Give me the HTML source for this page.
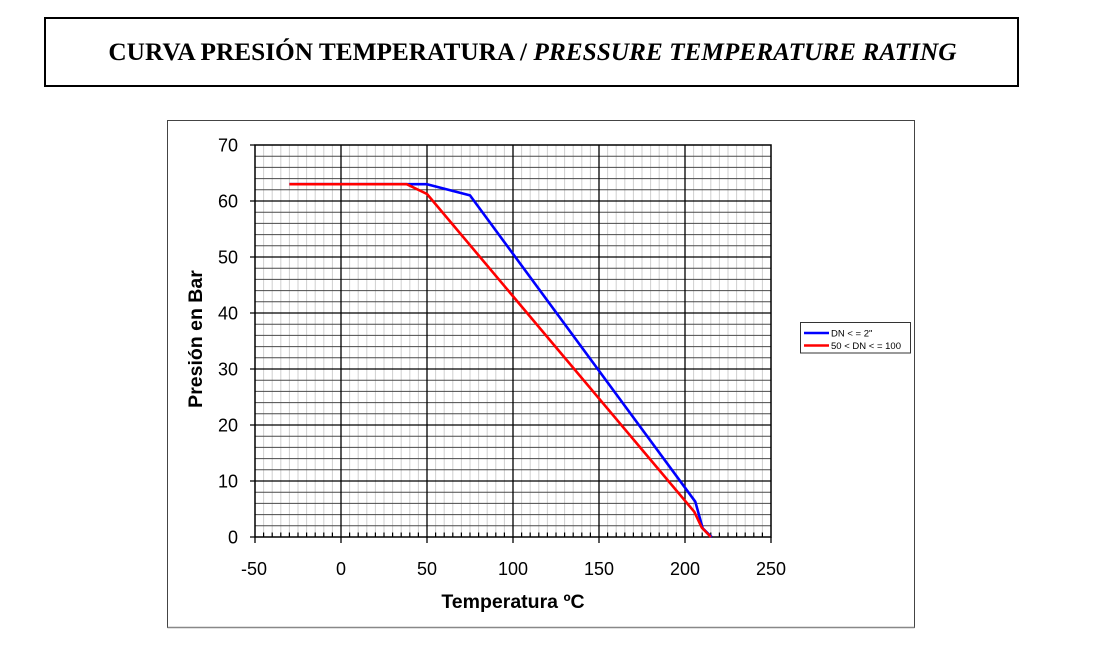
<!DOCTYPE html>
<html>
<head>
<meta charset="utf-8">
<style>
html,body{margin:0;padding:0;background:#fff;}
svg{display:block;}
</style>
</head>
<body>
<svg width="1101" height="652" viewBox="0 0 1101 652" xmlns="http://www.w3.org/2000/svg">
<rect x="0" y="0" width="1101" height="652" fill="#fff"/>
<!-- Title box -->
<rect x="45" y="18" width="973" height="68" fill="none" stroke="#000" stroke-width="2"/>
<text x="532.5" y="60" text-anchor="middle" font-family="'Liberation Serif', serif" font-weight="bold" font-size="25.3" fill="#000">CURVA PRESIÓN TEMPERATURA / <tspan font-style="italic">PRESSURE TEMPERATURE RATING</tspan></text>

<!-- Chart box -->
<rect x="167.5" y="120.5" width="747" height="507" fill="#fff" stroke="#444" stroke-width="1"/>
<line x1="167.5" y1="627.5" x2="914.5" y2="627.5" stroke="#888" stroke-width="1.5"/>

<!-- Vertical minor grid -->
<path fill="none" stroke="#cfcfcf" stroke-width="1" d="
M263.6 145V537 M272.2 145V537 M280.8 145V537 M289.4 145V537 M298 145V537 M306.6 145V537 M315.2 145V537 M323.8 145V537 M332.4 145V537
M349.6 145V537 M358.2 145V537 M366.8 145V537 M375.4 145V537 M384 145V537 M392.6 145V537 M401.2 145V537 M409.8 145V537 M418.4 145V537
M435.6 145V537 M444.2 145V537 M452.8 145V537 M461.4 145V537 M470 145V537 M478.6 145V537 M487.2 145V537 M495.8 145V537 M504.4 145V537
M521.6 145V537 M530.2 145V537 M538.8 145V537 M547.4 145V537 M556 145V537 M564.6 145V537 M573.2 145V537 M581.8 145V537 M590.4 145V537
M607.6 145V537 M616.2 145V537 M624.8 145V537 M633.4 145V537 M642 145V537 M650.6 145V537 M659.2 145V537 M667.8 145V537 M676.4 145V537
M693.6 145V537 M702.2 145V537 M710.8 145V537 M719.4 145V537 M728 145V537 M736.6 145V537 M745.2 145V537 M753.8 145V537 M762.4 145V537"/>

<!-- Horizontal minor grid -->
<path fill="none" stroke="#4a4a4a" stroke-width="1" d="
M255 525.8H771 M255 514.6H771 M255 503.4H771 M255 492.2H771
M255 469.8H771 M255 458.6H771 M255 447.4H771 M255 436.2H771
M255 413.8H771 M255 402.6H771 M255 391.4H771 M255 380.2H771
M255 357.8H771 M255 346.6H771 M255 335.4H771 M255 324.2H771
M255 301.8H771 M255 290.6H771 M255 279.4H771 M255 268.2H771
M255 245.8H771 M255 234.6H771 M255 223.4H771 M255 212.2H771
M255 189.8H771 M255 178.6H771 M255 167.4H771 M255 156.2H771"/>

<!-- Major grid -->
<path fill="none" stroke="#000" stroke-width="1.3" d="
M341 145V537 M427 145V537 M513 145V537 M599 145V537 M685 145V537
M255 481H771 M255 425H771 M255 369H771 M255 313H771 M255 257H771 M255 201H771"/>

<!-- Plot border -->
<rect x="255" y="145" width="516" height="392" fill="none" stroke="#000" stroke-width="1.5"/>

<!-- X minor ticks (inward) -->
<path fill="none" stroke="#000" stroke-width="1.2" d="
M263.6 537V532.5 M272.2 537V532.5 M280.8 537V532.5 M289.4 537V532.5 M298 537V532.5 M306.6 537V532.5 M315.2 537V532.5 M323.8 537V532.5 M332.4 537V532.5
M349.6 537V532.5 M358.2 537V532.5 M366.8 537V532.5 M375.4 537V532.5 M384 537V532.5 M392.6 537V532.5 M401.2 537V532.5 M409.8 537V532.5 M418.4 537V532.5
M435.6 537V532.5 M444.2 537V532.5 M452.8 537V532.5 M461.4 537V532.5 M470 537V532.5 M478.6 537V532.5 M487.2 537V532.5 M495.8 537V532.5 M504.4 537V532.5
M521.6 537V532.5 M530.2 537V532.5 M538.8 537V532.5 M547.4 537V532.5 M556 537V532.5 M564.6 537V532.5 M573.2 537V532.5 M581.8 537V532.5 M590.4 537V532.5
M607.6 537V532.5 M616.2 537V532.5 M624.8 537V532.5 M633.4 537V532.5 M642 537V532.5 M650.6 537V532.5 M659.2 537V532.5 M667.8 537V532.5 M676.4 537V532.5
M693.6 537V532.5 M702.2 537V532.5 M710.8 537V532.5 M719.4 537V532.5 M728 537V532.5 M736.6 537V532.5 M745.2 537V532.5 M753.8 537V532.5 M762.4 537V532.5"/>
<!-- X major ticks (outward) -->
<path fill="none" stroke="#000" stroke-width="1.3" d="
M255 537V543 M341 537V543 M427 537V543 M513 537V543 M599 537V543 M685 537V543 M771 537V543"/>
<!-- Y major ticks -->
<path fill="none" stroke="#000" stroke-width="1.3" d="
M250 537H255 M250 481H255 M250 425H255 M250 369H255 M250 313H255 M250 257H255 M250 201H255 M250 145H255"/>

<!-- Series -->
<polyline fill="none" stroke="#0000ff" stroke-width="2.6" stroke-linejoin="round"
  points="289.4,184.2 427,184.2 470,195.4 695.3,501.7 702.7,528.3 711.7,537"/>
<polyline fill="none" stroke="#ff0000" stroke-width="2.6" stroke-linejoin="round"
  points="289.4,184.2 406.7,184.2 427,194 694.3,511.8 701.7,527.5 710.8,537"/>

<!-- Y tick labels -->
<g font-family="'Liberation Sans', Arial, sans-serif" font-size="18" fill="#000" text-anchor="end">
<text x="238" y="151.5">70</text>
<text x="238" y="207.5">60</text>
<text x="238" y="263.5">50</text>
<text x="238" y="319.5">40</text>
<text x="238" y="375.5">30</text>
<text x="238" y="431.5">20</text>
<text x="238" y="487.5">10</text>
<text x="238" y="543.5">0</text>
</g>
<!-- X tick labels -->
<g font-family="'Liberation Sans', Arial, sans-serif" font-size="18" fill="#000" text-anchor="middle">
<text x="254" y="575">-50</text>
<text x="341" y="575">0</text>
<text x="427" y="575">50</text>
<text x="513" y="575">100</text>
<text x="599" y="575">150</text>
<text x="685" y="575">200</text>
<text x="771" y="575">250</text>
</g>

<!-- Axis titles -->
<text x="513" y="608" text-anchor="middle" font-family="'Liberation Sans', Arial, sans-serif" font-weight="bold" font-size="19.5" fill="#000">Temperatura ºC</text>
<text transform="translate(202,339) rotate(-90)" text-anchor="middle" font-family="'Liberation Sans', Arial, sans-serif" font-weight="bold" font-size="19.5" fill="#000">Presión en Bar</text>

<!-- Legend -->
<rect x="800.5" y="322.5" width="110" height="30.5" fill="#fff" stroke="#333" stroke-width="1"/>
<line x1="804" y1="333" x2="829" y2="333" stroke="#0000ff" stroke-width="2.6"/>
<line x1="804" y1="345.5" x2="829" y2="345.5" stroke="#ff0000" stroke-width="2.6"/>
<g font-family="'Liberation Sans', Arial, sans-serif" font-size="9.5" fill="#000">
<text x="831" y="336.5">DN &lt; = 2"</text>
<text x="831" y="349">50 &lt; DN &lt; = 100</text>
</g>
</svg>
</body>
</html>
